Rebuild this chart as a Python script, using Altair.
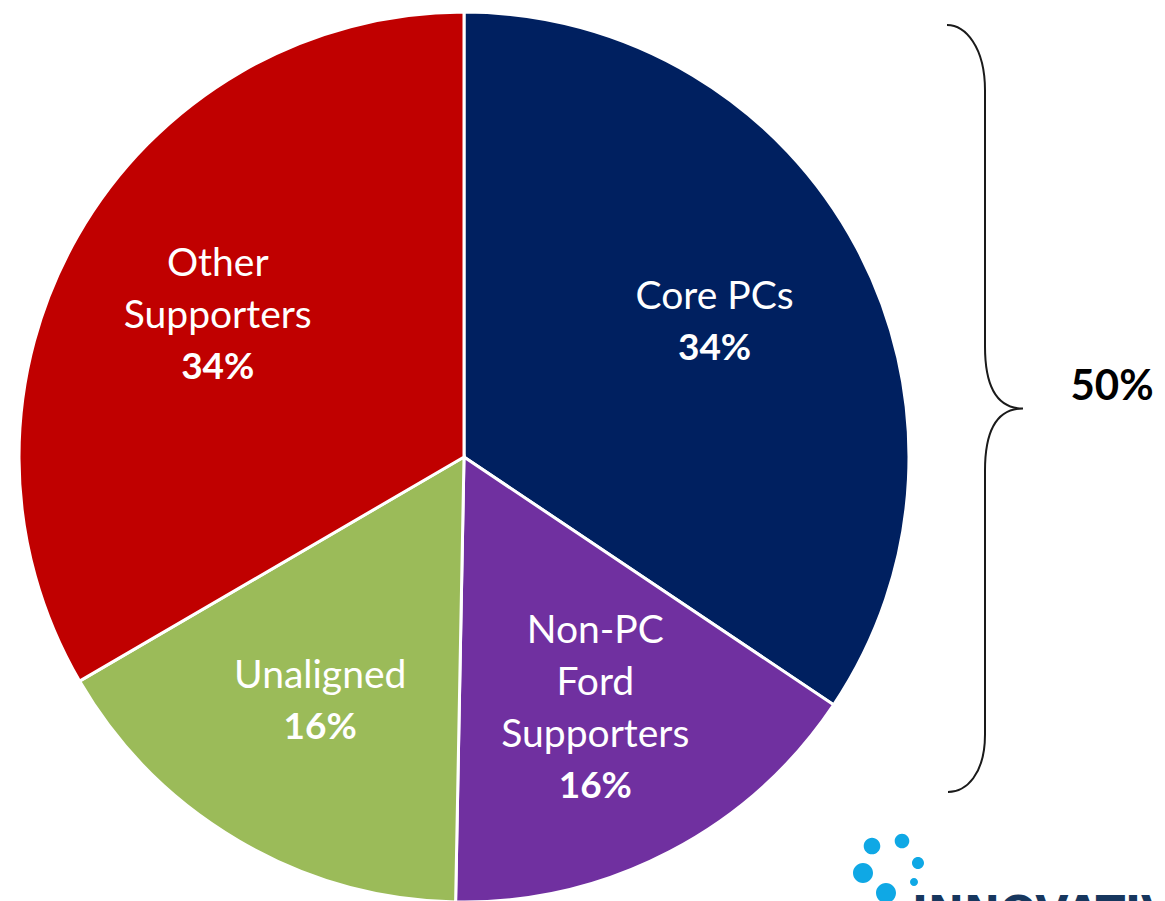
import altair as alt
import pandas as pd

# ---- data ----
segments = ["Core PCs", "Non-PC Ford Supporters", "Unaligned", "Other Supporters"]
shares = [34.4, 15.9, 16.3, 33.4]          # slice sizes as drawn
name_lines = [["Core PCs"], ["Non-PC", "Ford", "Supporters"], ["Unaligned"], ["Other", "Supporters"]]
pct_labels = ["34%", "16%", "16%", "34%"]
colors = ["#002060", "#7030A0", "#9BBB59", "#C00000"]
bracket_label = ["50%"]
logo_text = ["INNOVATIVE"]

df = pd.DataFrame({
    "segment": segments,
    "share": shares,
    "order": list(range(len(segments))),
    "name": ["\n".join(l) for l in name_lines],
    "pct": pct_labels,
    "n_lines": [len(l) + 1 for l in name_lines],
})

# ---- layout constants (chart coordinates) ----
CX, CY, R = 456, 449, 445
LABEL_R = 284
LINE_H = 52
FONT = "Lato"

base = alt.Chart(df).encode(
    theta=alt.Theta("share:Q", stack=True),
    order=alt.Order("order:Q"),
)

pie = base.mark_arc(stroke="white", strokeWidth=3).encode(
    color=alt.Color("segment:N", scale=alt.Scale(domain=segments, range=colors), legend=None),
    radius=alt.value(R),
    x=alt.value(CX),
    y=alt.value(CY),
)

# label blocks: one pair of text layers per block height so each block is centred
text_layers = []
for n in sorted(set(df["n_lines"])):
    half = (n - 1) * LINE_H / 2
    names = base.transform_calculate(
        t=f"datum.n_lines == {n} ? datum.name : ''"
    ).mark_text(
        font=FONT, fontSize=39, color="white", lineBreak="\n", lineHeight=LINE_H,
        align="center", baseline="middle", dy=-half,
    ).encode(text="t:N", radius=alt.value(LABEL_R), x=alt.value(CX), y=alt.value(CY))
    pcts = base.transform_calculate(
        t=f"datum.n_lines == {n} ? datum.pct : ''"
    ).mark_text(
        font=FONT, fontSize=37, fontWeight="bold", color="white",
        align="center", baseline="middle", dy=half,
    ).encode(text="t:N", radius=alt.value(LABEL_R), x=alt.value(CX), y=alt.value(CY))
    text_layers += [names, pcts]

# ---- curly brace (custom symbol path) ----
S = 383.5
brace_pts = ("M -38 -383.5 C -20 -383.5 0 -362 0 -318 L 0 -62 C 0 -22 12 0 38 0 "
             "C 12 0 0 22 0 62 L 0 326 C 0 366 -19 383.5 -37 383.5")


def norm_path(p, s):
    out = []
    for tok in p.split():
        try:
            out.append(f"{float(tok) / s:.5f}")
        except ValueError:
            out.append(tok)
    return " ".join(out)


brace_path = norm_path(brace_pts, S)
brace = alt.Chart(pd.DataFrame({"label": bracket_label})).mark_point(
    shape=brace_path, size=(2 * S) ** 2, filled=False, stroke="#1a1a1a",
    strokeWidth=2, opacity=1,
).encode(x=alt.value(977), y=alt.value(400.5))

label50 = alt.Chart(pd.DataFrame({"label": bracket_label})).mark_text(
    font=FONT, fontSize=42, fontWeight="bold", color="black", align="center", baseline="middle",
).encode(text="label:N", x=alt.value(1104), y=alt.value(379))

# ---- logo ----
LS = 50.0
dots = [(-18, -22, 8.3), (12, -27, 7.3), (28, -5, 6), (-27, 5, 10), (24, 14, 4), (-4, 25, 10)]
parts = []
for dx, dy, r in dots:
    parts.append(
        f"M {(dx - r) / LS:.4f} {dy / LS:.4f} "
        f"a {r / LS:.4f} {r / LS:.4f} 0 1 0 {2 * r / LS:.4f} 0 "
        f"a {r / LS:.4f} {r / LS:.4f} 0 1 0 {-2 * r / LS:.4f} 0 Z"
    )
logo_path = " ".join(parts)
logo_dots = alt.Chart(pd.DataFrame({"label": logo_text})).mark_point(
    shape=logo_path, size=(2 * LS) ** 2, filled=True, fill="#0FA8E5", strokeWidth=0, opacity=1,
).encode(x=alt.value(882), y=alt.value(860))

logo_word = alt.Chart(pd.DataFrame({"label": logo_text})).mark_text(
    font="DejaVu Sans", fontSize=43, fontWeight="bold", color="#17375E",
    align="left", baseline="alphabetic",
).encode(text="label:N", x=alt.value(904), y=alt.value(918))

chart = alt.layer(pie, *text_layers, brace, label50, logo_dots, logo_word).properties(
    width=1149, height=893,
    autosize=alt.AutoSizeParams(type="none"),
    padding=0,
).configure_view(strokeWidth=0)

chart.save("out.html", embed_options={"renderer": "svg", "actions": False})
